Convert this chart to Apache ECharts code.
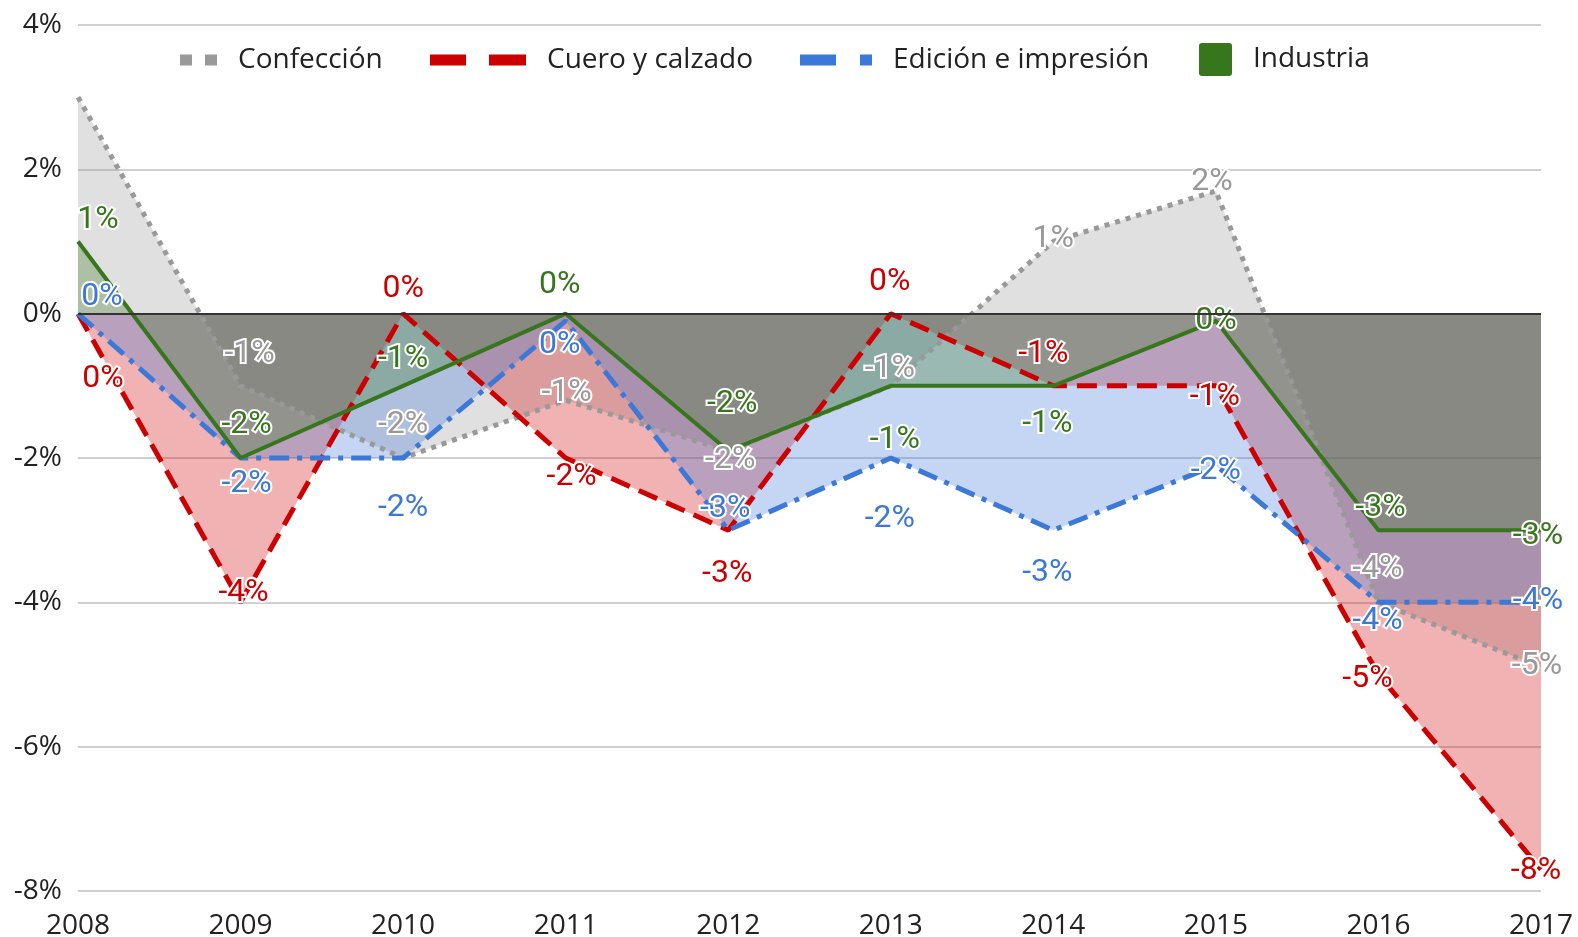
<!DOCTYPE html>
<html>
<head>
<meta charset="utf-8">
<script src="https://cdn.jsdelivr.net/npm/echarts@6/dist/echarts.min.js"></script>
<style>
  html, body { margin: 0; padding: 0; background: #fff; }
  #main { width: 1578px; height: 937px; }
</style>
</head>
<body>
<div id="main"></div>
<script>
// data
var years = ['2008', '2009', '2010', '2011', '2012', '2013', '2014', '2015', '2016', '2017'];
var confeccion = [3.0, -1.0, -2.0, -1.2, -1.9, -1.0, 1.0, 1.7, -4.0, -4.9];
var cuero = [0.0, -4.0, 0.0, -2.0, -3.0, 0.0, -1.0, -1.0, -5.0, -7.7];
var edicion = [0.0, -2.0, -2.0, -0.1, -3.0, -2.0, -3.0, -2.1, -4.0, -4.0];
var industria = [1.0, -2.0, -1.0, 0.0, -1.9, -1.0, -1.0, -0.1, -3.0, -3.0];
var yMin = -8, yMax = 4, yStep = 2;

// where each value label sits relative to its point (null = no label)
var confeccionLbl = [null, [9, -32], [0, -33], [1, -7], [2, 9], [-1, -17], [0, -3], [-4, -9], [-1, -33], [-4, -1]];
var cueroLbl = [[25, 65], [3, -9], [0, -25], [6, 19], [-1, 44], [-1, -32], [-10, -32], [-1, 11], [-11, 4], [-5, 2]];
var edicionLbl = [[24, -17], [6, 26], [0, 50], [-6, 24], [-3, -21], [-1, 61], [-6, 43], [0, 6], [-1, 19], [-3, -1]];
var industriaLbl = [[20, -22], [6, -33], [0, -27], [-6, -29], [4, -47], [4, 54], [-6, 38], [0, 0], [2, -22], [-3, 6]];

var axisFont = '"Open Sans", "Noto Sans", sans-serif';

function makeSeries(name, values, color, dash, width, lbl) {
  return {
    name: name,
    type: 'line',
    data: values.map(function (v, i) {
      return {
        value: v,
        label: lbl[i] ? { offset: lbl[i] } : { show: false }
      };
    }),
    symbol: 'circle',
    symbolSize: 2,
    showSymbol: true,
    itemStyle: { color: 'rgba(0,0,0,0)', borderWidth: 0 },
    lineStyle: { color: color, width: width, type: dash, cap: 'butt' },
    areaStyle: { color: color, opacity: 0.3 },
    label: {
      show: true,
      position: 'inside',
      color: color,
      fontFamily: 'Roboto',
      fontSize: 32,
      textBorderColor: '#fff',
      textBorderWidth: 4,
      formatter: function (p) { return Math.round(p.value) + '%'; }
    },
    emphasis: { disabled: true }
  };
}

function legendOf(name, left, top, w, h, icon, color) {
  return {
    left: left,
    top: top,
    padding: 0,
    itemWidth: w,
    itemHeight: h,
    symbolKeepAspect: false,
    selectedMode: false,
    textStyle: { fontSize: 28, color: '#222', fontFamily: axisFont },
    data: [{ name: name, icon: icon, itemStyle: { color: color, borderWidth: 0 } }]
  };
}

var chart = echarts.init(document.getElementById('main'));

var series = [
  makeSeries('Confección', confeccion, '#999999', [5, 6], 5, confeccionLbl),
  makeSeries('Cuero y calzado', cuero, '#cc0000', [20, 10], 5, cueroLbl),
  makeSeries('Edición e impresión', edicion, '#3c78d8', [20, 8, 5, 8], 5, edicionLbl),
  makeSeries('Industria', industria, '#38761d', 'solid', 4, industriaLbl)
];
series[3].markLine = {
  silent: true,
  symbol: 'none',
  label: { show: false },
  lineStyle: { color: '#333', width: 2, type: 'solid' },
  data: [{ yAxis: 0 }]
};

var option = {
  animation: false,
  backgroundColor: '#fff',
  grid: { left: 78, right: 37, top: 25, bottom: 46, containLabel: false, outerBoundsMode: 'none' },
  legend: [
    legendOf('Confección', 180, 46, 53, 11,
      'path://M0,0h12v11h-12z M25,0h12v11h-12z M53,0L53,11', '#999999'),
    legendOf('Cuero y calzado', 430, 46, 112, 11,
      'path://M0,0h36v11h-36z M59,0h37v11h-37z M112,0L112,11', '#cc0000'),
    legendOf('Edición e impresión', 800, 46, 88, 11,
      'path://M0,0h36v11h-36z M60,0h12v11h-12z M88,0L88,11', '#3c78d8'),
    legendOf('Industria', 1199, 43, 49, 33,
      'path://M3,0h27a3,3 0 0 1 3,3v27a3,3 0 0 1 -3,3h-27a3,3 0 0 1 -3,-3v-27a3,3 0 0 1 3,-3z M49,0L49,33', '#38761d')
  ],
  xAxis: {
    type: 'category',
    data: years,
    boundaryGap: false,
    axisLine: { show: false },
    axisTick: { show: false },
    splitLine: { show: false },
    axisLabel: { fontSize: 28, color: '#222', margin: 21, fontFamily: axisFont }
  },
  yAxis: {
    type: 'value',
    min: yMin,
    max: yMax,
    interval: yStep,
    axisLine: { show: false },
    axisTick: { show: false },
    axisLabel: { formatter: '{value}%', fontSize: 28, color: '#222', margin: 16, fontFamily: axisFont },
    splitLine: { lineStyle: { color: '#d0d0d0', width: 2 } }
  },
  series: series
};

chart.setOption(option);
</script>
</body>
</html>
